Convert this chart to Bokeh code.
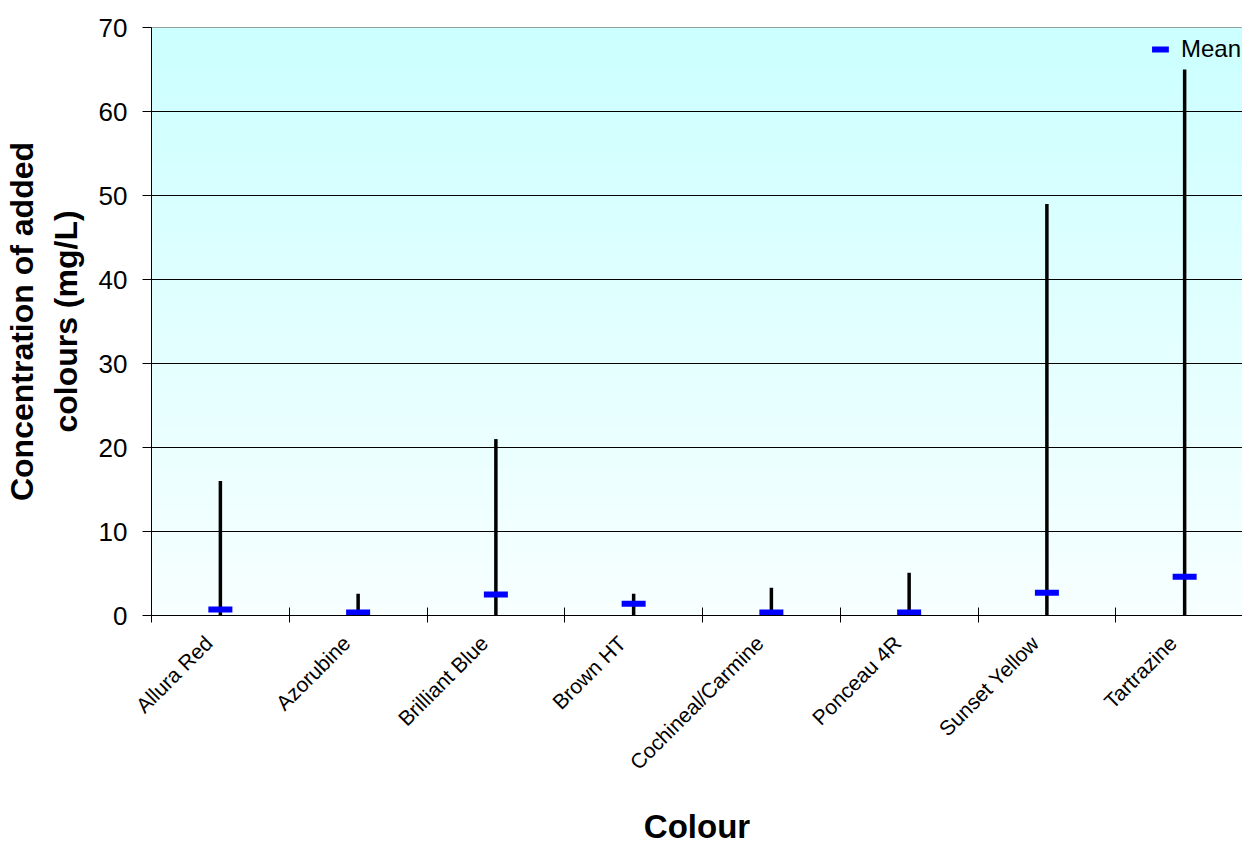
import math
import numpy as np
from bokeh.plotting import figure
from bokeh.models import FixedTicker, Range1d, ColumnDataSource, Legend, LegendItem
from bokeh.embed import file_html
from bokeh.resources import INLINE

colours = ["Allura Red", "Azorubine", "Brilliant Blue", "Brown HT",
           "Cochineal/Carmine", "Ponceau 4R", "Sunset Yellow", "Tartrazine"]
max_values = [16, 2.6, 21, 2.6, 3.3, 5.1, 49, 65]
mean_values = [0.7, 0.35, 2.5, 1.4, 0.35, 0.35, 2.7, 4.6]
y_ticks = [0, 10, 20, 30, 40, 50, 60, 70]

FONT = "Liberation Sans"
LABEL_SHIFT = 0.085  # horizontal offset of rotated category labels (style)

pos = [i + 0.5 for i in range(len(colours))]
label_pos = [x - LABEL_SHIFT for x in pos]
zeros = [0] * len(colours)
src = ColumnDataSource(dict(x=pos, lo=zeros, hi=max_values, mean=mean_values, name=colours))

p = figure(frame_width=1091, frame_height=588,
           x_range=Range1d(0, 7.92), y_range=Range1d(0, y_ticks[-1]),
           output_backend="svg", toolbar_location=None,
           min_border_left=151, min_border_top=27, min_border_right=0, min_border_bottom=200,
           background_fill_color="white", border_fill_color="white",
           outline_line_color="#808080", outline_line_width=1)

# gradient background
n = 588
img = np.zeros((n, 1), dtype=np.uint32)
view = img.view(dtype=np.uint8).reshape((n, 1, 4))
rvals = np.linspace(248, 204, n)
view[:, 0, 0] = rvals.astype(np.uint8)
view[:, 0, 1] = 255
view[:, 0, 2] = 255
view[:, 0, 3] = 255
p.image_rgba(image=[img], x=0, y=0, dw=len(colours), dh=y_ticks[-1], level="image")

# grid
p.xgrid.visible = False
p.ygrid.ticker = FixedTicker(ticks=y_ticks[1:-1])
p.ygrid.grid_line_color = "black"
p.ygrid.grid_line_width = 1

# range lines
p.segment(x0="x", y0="lo", x1="x", y1="hi", source=src, line_color="black", line_width=3.5)
# mean markers
r_mean = p.scatter(x="x", y="mean", source=src, marker="dash", size=24,
                   line_color="#0000FF", line_width=6)

legend = Legend(items=[LegendItem(label="Mean", renderers=[r_mean])],
                location="top_right", border_line_color=None,
                background_fill_alpha=0, label_text_font=FONT,
                label_text_font_size="24px", label_text_color="black",
                glyph_width=42, glyph_height=42,
                padding=0, margin=1, label_standoff=-2)
p.add_layout(legend)

# x axis
xa = p.xaxis[0]
xa.ticker = FixedTicker(ticks=label_pos, minor_ticks=list(range(len(colours) + 1)))
xa.major_label_overrides = {x: c for x, c in zip(label_pos, colours)}
xa.major_tick_in = 0
xa.major_tick_out = 0
xa.minor_tick_in = 8
xa.minor_tick_out = 7
xa.minor_tick_line_color = "black"
xa.major_label_orientation = math.pi / 4
xa.major_label_text_font = FONT
xa.major_label_text_font_size = "21px"
xa.major_label_text_color = "black"
xa.major_label_standoff = 17
xa.axis_line_color = "black"
xa.axis_label = "Colour"
xa.axis_label_text_font = FONT
xa.axis_label_text_font_size = "33px"
xa.axis_label_text_font_style = "bold"
xa.axis_label_text_color = "black"
xa.axis_label_standoff = 23

# y axis
ya = p.yaxis[0]
ya.ticker = FixedTicker(ticks=y_ticks)
ya.minor_tick_line_color = None
ya.major_tick_in = 0
ya.major_tick_out = 9
ya.major_tick_line_color = "black"
ya.axis_line_color = "black"
ya.major_label_text_font = FONT
ya.major_label_text_font_size = "26px"
ya.major_label_text_color = "black"
ya.major_label_standoff = 15
ya.axis_label = "Concentration of added\ncolours (mg/L)"
ya.axis_label_text_font = FONT
ya.axis_label_text_font_size = "32px"
ya.axis_label_text_font_style = "bold"
ya.axis_label_text_color = "black"
ya.axis_label_standoff = 12

open("out.html", "w").write(file_html(p, INLINE))
